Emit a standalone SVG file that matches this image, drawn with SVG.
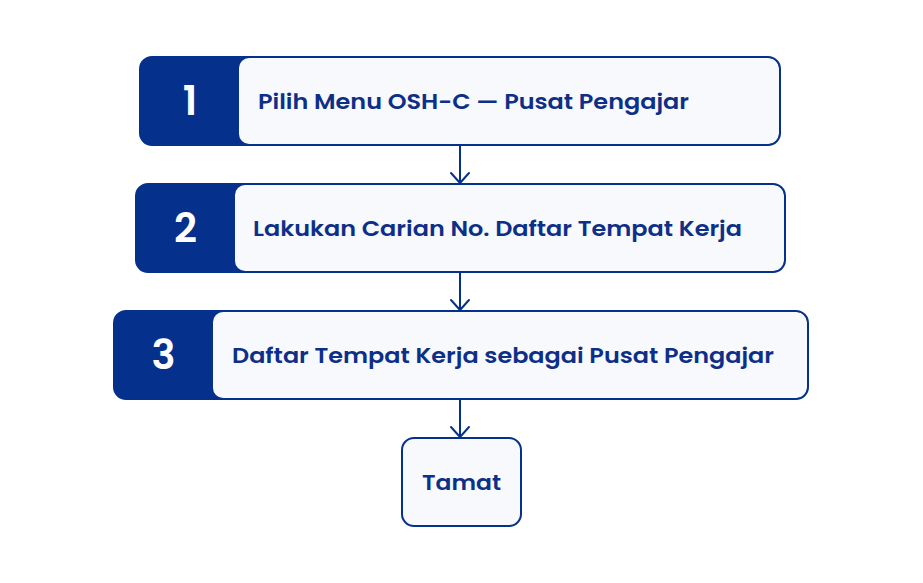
<svg xmlns="http://www.w3.org/2000/svg" width="923" height="583" viewBox="0 0 923 583">
<style>
.dark{fill:#05318c}
.light{fill:#f7f9fd}
.frame{fill:none;stroke:#05318c;stroke-width:2}
.num{font-family:Poppins,"Open Sans","Liberation Sans",sans-serif;font-weight:600;font-size:40px;fill:#ffffff;text-anchor:middle}
.lbl{font-family:Poppins,"Open Sans","Liberation Sans",sans-serif;font-weight:600;font-size:21px;fill:#0d2f87}
.conn{fill:none;stroke:#05318c;stroke-width:2;stroke-linecap:round;stroke-linejoin:round}
</style>
<rect width="923" height="583" fill="#ffffff"/>
<g id="step1">
<rect class="dark" x="140" y="57" width="640" height="88" rx="12"/>
<rect class="light" x="239" y="58" width="540" height="86" rx="10"/>
<rect class="frame" x="140" y="57" width="640" height="88" rx="12"/>
<text class="num" x="190" y="115">1</text>
<text class="lbl" x="258" y="109" textLength="431" lengthAdjust="spacingAndGlyphs">Pilih Menu OSH-C — Pusat Pengajar</text>
</g>
<g id="step2">
<rect class="dark" x="136" y="184" width="649" height="88" rx="12"/>
<rect class="light" x="235" y="185" width="549" height="86" rx="10"/>
<rect class="frame" x="136" y="184" width="649" height="88" rx="12"/>
<text class="num" x="185.5" y="242">2</text>
<text class="lbl" x="253" y="236" textLength="489" lengthAdjust="spacingAndGlyphs">Lakukan Carian No. Daftar Tempat Kerja</text>
</g>
<g id="step3">
<rect class="dark" x="114" y="311" width="694" height="88" rx="12"/>
<rect class="light" x="213" y="312" width="594" height="86" rx="10"/>
<rect class="frame" x="114" y="311" width="694" height="88" rx="12"/>
<text class="num" x="163.5" y="369">3</text>
<text class="lbl" x="232" y="363" textLength="542" lengthAdjust="spacingAndGlyphs">Daftar Tempat Kerja sebagai Pusat Pengajar</text>
</g>
<g id="end">
<rect class="light" x="402" y="438" width="119" height="88" rx="12" stroke="#05318c" stroke-width="2"/>
<text class="lbl" x="422" y="490" textLength="79" lengthAdjust="spacingAndGlyphs">Tamat</text>
</g>
<g id="connectors">
<path class="conn" d="M460 146V183M451 173L460 183L469 173"/>
<path class="conn" d="M460 273V310M451 300L460 310L469 300"/>
<path class="conn" d="M460 400V437M451 427L460 437L469 427"/>
</g>
</svg>
